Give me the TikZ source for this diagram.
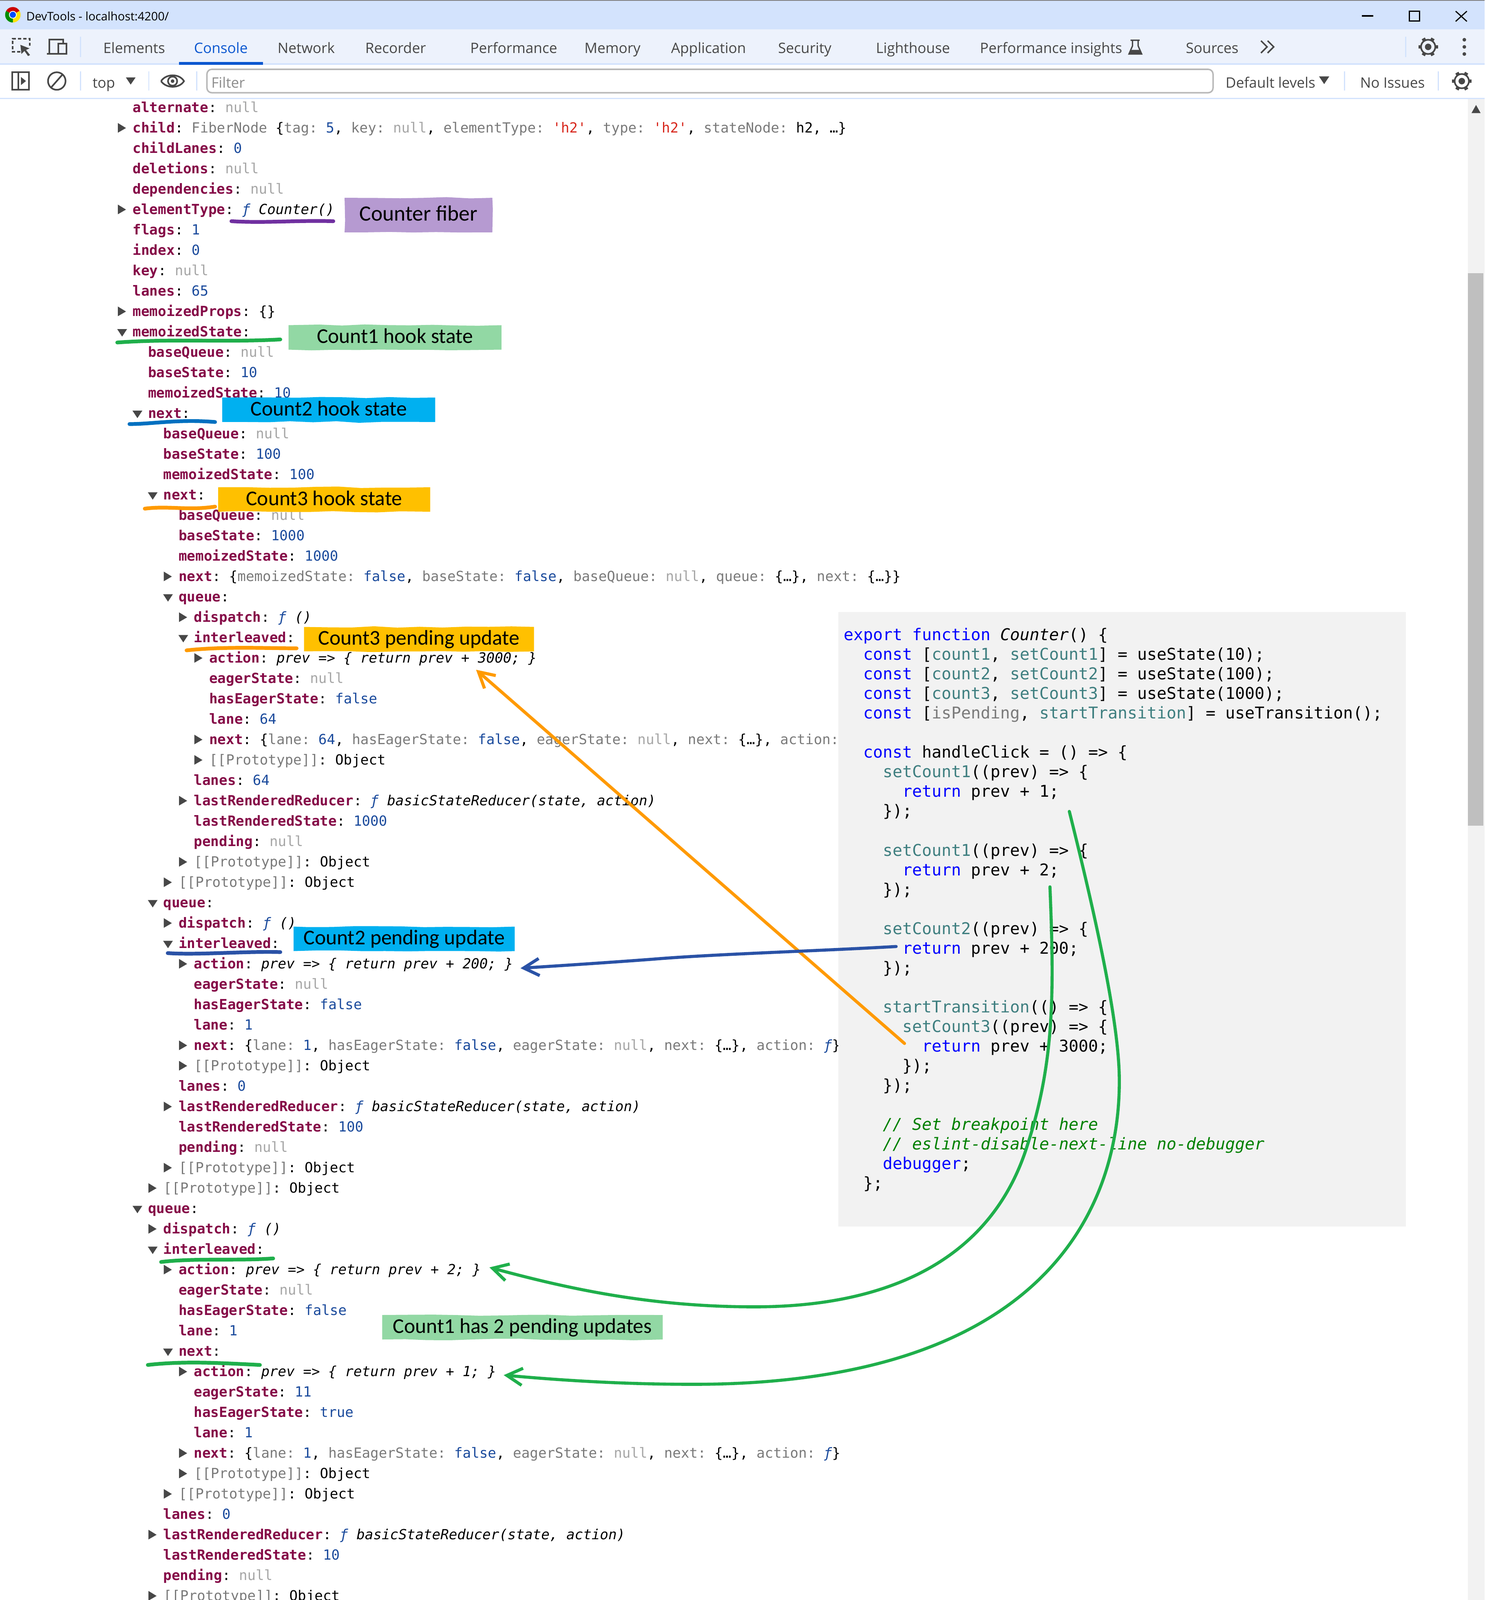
\documentclass[tikz,border=0pt]{standalone}
\usepackage{fontspec}
\usetikzlibrary{arrows.meta,decorations.pathmorphing}
\newfontfamily\monofam{DejaVu Sans Mono}
\newfontfamily\uifam{Open Sans}
\newfontfamily\handfam{Carlito}
\definecolor{titlebar}{HTML}{D3E3FD}
\definecolor{tabbar}{HTML}{EDF2FC}
\definecolor{tabblue}{HTML}{0B57D0}
\definecolor{uigray}{HTML}{474747}
\definecolor{keyred}{HTML}{850A47}
\definecolor{nullgray}{HTML}{A6A6A6}
\definecolor{prevgray}{HTML}{7A7A7A}
\definecolor{numblue}{HTML}{1A4A9C}
\definecolor{strred}{HTML}{D8281E}
\definecolor{codebg}{HTML}{F2F2F2}
\definecolor{codeteal}{HTML}{3F7F80}
\definecolor{codegreen}{HTML}{008000}
\definecolor{codeblue}{HTML}{0000FF}
\definecolor{notepurple}{HTML}{B69AD1}
\definecolor{notegreen}{HTML}{92D8A4}
\definecolor{notecyan}{HTML}{00B0F0}
\definecolor{noteamber}{HTML}{FFC000}
\definecolor{inkpurple}{HTML}{7030A0}
\definecolor{inkgreen}{HTML}{1FAF4B}
\definecolor{inkblue}{HTML}{0070C0}
\definecolor{inknavy}{HTML}{2A52A6}
\definecolor{inkorange}{HTML}{FF9A00}
\tikzset{
  rowtext/.style={anchor=west,inner sep=0pt,font=\monofam\fontsize{8.55}{10}\selectfont\frenchspacing,text height=7pt,text depth=1pt},
  codetext/.style={anchor=west,inner sep=0pt,font=\monofam\fontsize{9.97}{11}\selectfont\frenchspacing,text height=7.5pt,text depth=1pt},
  uitext/.style={anchor=west,inner sep=0pt,font=\uifam\fontsize{8.8}{11}\selectfont,text=uigray,text height=7pt,text depth=1pt},
  notebox/.style={inner sep=0pt,font=\handfam\fontsize{12.9}{15}\selectfont,text height=8.5pt,text depth=1.5pt,
    decorate,decoration={random steps,segment length=14pt,amplitude=0.5pt}},
  inkline/.style={line width=2.3pt,line cap=round},
  inkarrow/.style={line width=1.9pt,line cap=round,-{Straight Barb[length=9.5pt,width=10.5pt,line width=1.9pt]}},
  sepline/.style={draw=titlebar,line width=0.6pt},
  iconline/.style={draw=uigray,line width=1pt},
  gearicon/.pic={
    \foreach \a in {0,60,...,300} \draw[uigray,line width=2.2pt] (\a:7) -- (\a:9.6);
    \draw[iconline] (0,0) circle (7);
    \fill[uigray] (0,0) circle (3.2);
  }
}
\newcommand\rtri[1]{\fill[uigray] ([shift={(-14.4,-4.6)}]#1.west) -- ([shift={(-14.4,4.9)}]#1.west) -- ([shift={(-6.4,0.3)}]#1.west) -- cycle;}
\newcommand\dtri[1]{\fill[uigray] ([shift={(-15,-2.4)}]#1.west) -- ([shift={(-5.4,-2.4)}]#1.west) -- ([shift={(-10.2,4.9)}]#1.west) -- cycle;}
\newcommand\notri[1]{}
\newcommand\kk[1]{{\bfseries\color{keyred}#1}:}
\newcommand\nl{{\color{nullgray}null}}
\newcommand\nm[1]{{\color{numblue}#1}}
\newcommand\strv[1]{{\color{strred}#1}}
\newcommand\gk[1]{{\color{prevgray}#1}}
\newcommand\fn[1]{{\itshape{\color{numblue}ƒ} #1}}
\newcommand\fsym{{\itshape\color{numblue}ƒ}}
\newcommand\proto{{\color{prevgray}[[Prototype]]}: Object}
\newcommand\cw[1]{{\color{codeblue}#1}}
\newcommand\cv[1]{{\color{codeteal}#1}}
\begin{document}
\begin{tikzpicture}[x=0.625pt,y=-0.625pt]
\useasboundingbox (0,0) rectangle (1456.4,1569.6);
\fill[white] (0,0) rectangle (1456.4,1569.6);

% console rows
\foreach \lvl/\tri/\txt [count=\i from 0] in {
0/\notri/{\kk{alternate} \nl},
0/\rtri/{\kk{child} \gk{FiberNode} \{\gk{tag:} \nm{5}, \gk{key:} \nl, \gk{elementType:} \strv{'h2'}, \gk{type:} \strv{'h2'}, \gk{stateNode:} h2, …\}},
0/\notri/{\kk{childLanes} \nm{0}},
0/\notri/{\kk{deletions} \nl},
0/\notri/{\kk{dependencies} \nl},
0/\rtri/{\kk{elementType} \fn{Counter()}},
0/\notri/{\kk{flags} \nm{1}},
0/\notri/{\kk{index} \nm{0}},
0/\notri/{\kk{key} \nl},
0/\notri/{\kk{lanes} \nm{65}},
0/\rtri/{\kk{memoizedProps} \{\}},
0/\dtri/{\kk{memoizedState}},
1/\notri/{\kk{baseQueue} \nl},
1/\notri/{\kk{baseState} \nm{10}},
1/\notri/{\kk{memoizedState} \nm{10}},
1/\dtri/{\kk{next}},
2/\notri/{\kk{baseQueue} \nl},
2/\notri/{\kk{baseState} \nm{100}},
2/\notri/{\kk{memoizedState} \nm{100}},
2/\dtri/{\kk{next}},
3/\notri/{\kk{baseQueue} \nl},
3/\notri/{\kk{baseState} \nm{1000}},
3/\notri/{\kk{memoizedState} \nm{1000}},
3/\rtri/{\kk{next} \{\gk{memoizedState:} \nm{false}, \gk{baseState:} \nm{false}, \gk{baseQueue:} \nl, \gk{queue:} \{…\}, \gk{next:} \{…\}\}},
3/\dtri/{\kk{queue}},
4/\rtri/{\kk{dispatch} \fn{()}},
4/\dtri/{\kk{interleaved}},
5/\rtri/{\kk{action} \textit{prev => \{ return prev + 3000; \}}},
5/\notri/{\kk{eagerState} \nl},
5/\notri/{\kk{hasEagerState} \nm{false}},
5/\notri/{\kk{lane} \nm{64}},
5/\rtri/{\kk{next} \{\gk{lane:} \nm{64}, \gk{hasEagerState:} \nm{false}, \gk{eagerState:} \nl, \gk{next:} \{…\}, \gk{action:}},
5/\rtri/{\proto},
4/\notri/{\kk{lanes} \nm{64}},
4/\rtri/{\kk{lastRenderedReducer} \fn{basicStateReducer(state, action)}},
4/\notri/{\kk{lastRenderedState} \nm{1000}},
4/\notri/{\kk{pending} \nl},
4/\rtri/{\proto},
3/\rtri/{\proto},
2/\dtri/{\kk{queue}},
3/\rtri/{\kk{dispatch} \fn{()}},
3/\dtri/{\kk{interleaved}},
4/\rtri/{\kk{action} \textit{prev => \{ return prev + 200; \}}},
4/\notri/{\kk{eagerState} \nl},
4/\notri/{\kk{hasEagerState} \nm{false}},
4/\notri/{\kk{lane} \nm{1}},
4/\rtri/{\kk{next} \{\gk{lane:} \nm{1}, \gk{hasEagerState:} \nm{false}, \gk{eagerState:} \nl, \gk{next:} \{…\}, \gk{action:} \fsym\}},
4/\rtri/{\proto},
3/\notri/{\kk{lanes} \nm{0}},
3/\rtri/{\kk{lastRenderedReducer} \fn{basicStateReducer(state, action)}},
3/\notri/{\kk{lastRenderedState} \nm{100}},
3/\notri/{\kk{pending} \nl},
3/\rtri/{\proto},
2/\rtri/{\proto},
1/\dtri/{\kk{queue}},
2/\rtri/{\kk{dispatch} \fn{()}},
2/\dtri/{\kk{interleaved}},
3/\rtri/{\kk{action} \textit{prev => \{ return prev + 2; \}}},
3/\notri/{\kk{eagerState} \nl},
3/\notri/{\kk{hasEagerState} \nm{false}},
3/\notri/{\kk{lane} \nm{1}},
3/\dtri/{\kk{next}},
4/\rtri/{\kk{action} \textit{prev => \{ return prev + 1; \}}},
4/\notri/{\kk{eagerState} \nm{11}},
4/\notri/{\kk{hasEagerState} \nm{true}},
4/\notri/{\kk{lane} \nm{1}},
4/\rtri/{\kk{next} \{\gk{lane:} \nm{1}, \gk{hasEagerState:} \nm{false}, \gk{eagerState:} \nl, \gk{next:} \{…\}, \gk{action:} \fsym\}},
4/\rtri/{\proto},
3/\rtri/{\proto},
2/\notri/{\kk{lanes} \nm{0}},
2/\rtri/{\kk{lastRenderedReducer} \fn{basicStateReducer(state, action)}},
2/\notri/{\kk{lastRenderedState} \nm{10}},
2/\notri/{\kk{pending} \nl},
2/\rtri/{\proto}%
}{
  \pgfmathsetmacro\rowx{130+15*\lvl}
  \pgfmathsetmacro\rowy{105.3+20*\i}
  \node[rowtext] (row\i) at (\rowx,\rowy) {\txt};
  \tri{row\i}
}

% code panel
\fill[codebg] (822.5,600.5) rectangle (1379,1203);
\foreach \ln/\ind/\txt in {
0/0/{\cw{export} \cw{function} \textit{Counter}() \{},
1/2/{\cw{const} [\cv{count1}, \cv{setCount1}] = useState(10);},
2/2/{\cw{const} [\cv{count2}, \cv{setCount2}] = useState(100);},
3/2/{\cw{const} [\cv{count3}, \cv{setCount3}] = useState(1000);},
4/2/{\cw{const} [{\color{prevgray}isPending}, \cv{startTransition}] = useTransition();},
6/2/{\cw{const} handleClick = () => \{},
7/4/{\cv{setCount1}((prev) => \{},
8/6/{\cw{return} prev + 1;},
9/4/{\});},
11/4/{\cv{setCount1}((prev) => \{},
12/6/{\cw{return} prev + 2;},
13/4/{\});},
15/4/{\cv{setCount2}((prev) => \{},
16/6/{\cw{return} prev + 200;},
17/4/{\});},
19/4/{\cv{startTransition}(() => \{},
20/6/{\cv{setCount3}((prev) => \{},
21/8/{\cw{return} prev + 3000;},
22/6/{\});},
23/4/{\});},
25/4/{\textit{\color{codegreen}// Set breakpoint here}},
26/4/{\textit{\color{codegreen}// eslint-disable-next-line no-debugger}},
27/4/{\cw{debugger};},
28/2/{\};}%
}{
  \pgfmathsetmacro\codex{827.5+9.6*\ind}
  \pgfmathsetmacro\codey{623+19.22*\ln}
  \node[codetext] (code\ln) at (\codex,\codey) {\txt};
}

% scrollbar
\fill[codebg] (1440,97) rectangle (1456.4,1569.6);
\fill[black!25] (1440,268) rectangle (1455,810);
\fill[uigray] (1448,103) -- (1452.5,111) -- (1443.5,111) -- cycle;

% window bars
\fill[titlebar] (0,0) rectangle (1456.4,29);
\fill[gray] (0,0) rectangle (1456.4,1);
\fill[tabbar] (0,29) rectangle (1456.4,62);
\fill[titlebar] (0,62) rectangle (1456.4,63.5);
\fill[white] (0,63.5) rectangle (1456.4,96);
\fill[titlebar] (0,96) rectangle (1456.4,97.3);
\fill[tabblue] (175.5,61) rectangle (258,63.5);

% browser logo
\fill[red!80!black] (12.6,14.5) -- +(-150:7.6) arc[start angle=-150,end angle=-30,radius=7.6] -- cycle;
\fill[yellow!85!orange] (12.6,14.5) -- +(-30:7.6) arc[start angle=-30,end angle=90,radius=7.6] -- cycle;
\fill[green!55!black] (12.6,14.5) -- +(90:7.6) arc[start angle=90,end angle=210,radius=7.6] -- cycle;
\fill[white] (12.6,14.5) circle (3.8);
\fill[blue!70!cyan] (12.6,14.5) circle (3);

\node[uitext,text=black,font=\uifam\fontsize{7.2}{9}\selectfont] (title) at (25.5,15.5) {DevTools - localhost:4200/};
\draw[line width=1pt] (1336,15.7) -- (1347,15.7);
\draw[line width=0.8pt] (1382.5,11) rectangle (1392.5,20.5);
\draw[line width=0.7pt] (1428,11) -- (1439,21) (1439,11) -- (1428,21);

% tab row
\node[uitext] (tabelements) at (101,47.5) {Elements};
\node[uitext,text=tabblue] (tabconsole) at (190,47.5) {Console};
\node[uitext] (tabnetwork) at (272,47.5) {Network};
\node[uitext] (tabrecorder) at (358,47.5) {Recorder};
\node[uitext] (tabperformance) at (461,47.5) {Performance};
\node[uitext] (tabmemory) at (573,47.5) {Memory};
\node[uitext] (tabapplication) at (658,47.5) {Application};
\node[uitext] (tabsecurity) at (763,47.5) {Security};
\node[uitext] (tablighthouse) at (859,47.5) {Lighthouse};
\node[uitext] (tabinsights) at (961,47.5) {Performance insights};
\node[uitext] (tabsources) at (1163,47.5) {Sources};
\draw[uigray,line width=0.8pt] (1109,39.5) -- (1118,39.5) (1111,39.5) -- (1111,45) -- (1107.5,53) -- (1120,53) -- (1116.5,45) -- (1116.5,39.5);
\fill[uigray] (1109.5,49) -- (1117.5,49) -- (1120,53) -- (1107.5,53) -- cycle;
\draw[uigray,line width=0.9pt] (1237,40) -- (1243,46) -- (1237,52) (1243.5,40) -- (1249.5,46) -- (1243.5,52);
\draw[iconline,dash pattern=on 2pt off 1.2pt] (20,51) -- (12.5,51) -- (12.5,38) -- (29,38) -- (29,45);
\fill[uigray] (20,44) -- (29,47.5) -- (25.5,49) -- (29.5,54) -- (27.5,55) -- (24,50) -- (21,53) -- cycle;
\draw[iconline] (57,53) -- (46,53) (48.5,53) -- (48.5,39) -- (62,39) -- (62,42) (57,43) rectangle (65,53);
\draw[sepline] (79,36) -- (79,56);
\pic at (1401,46) {gearicon};
\foreach \dy in {39,46,53} \fill[uigray] (1436.5,\dy) circle (1.8);
\draw[sepline] (1379,36) -- (1379,56);

% filter row
\draw[iconline] (12,71) rectangle (28.5,88) (18,71) -- (18,88);
\fill[uigray] (20.5,75.5) -- (25.5,79.5) -- (20.5,83.5) -- cycle;
\draw[iconline] (55.7,79.5) circle (8.6) (50,86) -- (61.4,73);
\draw[sepline] (79,70) -- (79,89) (146,70) -- (146,89) (193,70) -- (193,89) (1319,70) -- (1319,89) (1411,70) -- (1411,89);
\node[uitext] (toplabel) at (90.5,81.5) {top};
\fill[uigray] (123.5,76) -- (133,76) -- (128.2,83) -- cycle;
\draw[iconline] (158,79.6) .. controls (163,72) and (176,72) .. (180.5,79.6) .. controls (176,87) and (163,87) .. (158,79.6);
\draw[iconline] (169.3,79.6) circle (4.5);
\fill[uigray] (169.3,79.6) circle (1.8);
\draw[draw=black!28,line width=0.9pt,rounded corners=3pt] (203,68) rectangle (1190,91);
\node[uitext,text=black!45] (filter) at (207,81.5) {Filter};
\node[uitext] (levels) at (1202,81.5) {Default levels};
\fill[uigray] (1294,75) -- (1304,75) -- (1299,82.5) -- cycle;
\node[uitext] (issues) at (1334,81.5) {No Issues};
\pic at (1434,79.6) {gearicon};

% notes
\node[notebox,fill=notepurple,minimum width=90.6pt,minimum height=21.2pt,font=\handfam\fontsize{13.4}{15}\selectfont] (fibernote) at (410.5,211) {Counter fiber};
\node[notebox,fill=notegreen,minimum width=130.6pt,minimum height=15pt] (count1note) at (387.5,331) {Count1 hook state};
\node[notebox,fill=notecyan,minimum width=130.6pt,minimum height=15pt] (count2note) at (322.5,402) {Count2 hook state};
\node[notebox,fill=noteamber,minimum width=130pt,minimum height=15pt] (count3note) at (318,490) {Count3 hook state};
\node[notebox,fill=noteamber,minimum width=141pt,minimum height=15pt] (update3note) at (411,627) {Count3 pending update};
\node[notebox,fill=notecyan,minimum width=135.6pt,minimum height=15pt] (update2note) at (396.5,921) {Count2 pending update};
\node[notebox,fill=notegreen,minimum width=172pt,minimum height=15pt] (update1note) at (512.5,1302) {Count1 has 2 pending updates};

% underlines
\draw[inkline,inkpurple] (227,217) .. controls (260,219) and (290,216) .. (327,217);
\draw[inkline,inkgreen] (115,336) .. controls (170,332) and (220,336) .. (275,333);
\draw[inkline,inkblue] (127,416) .. controls (150,416) and (175,411) .. (211,414);
\draw[inkline,inkorange] (142,499) .. controls (165,496) and (185,501) .. (211,497);
\draw[inkline,inkorange] (183,638) .. controls (220,634) and (260,636) .. (291,636);
\draw[inkline,inknavy] (164.5,935) .. controls (195,937) and (240,933) .. (275,934);
\draw[inkline,inkgreen] (158,1238) .. controls (190,1234) and (235,1237) .. (268,1234.5);
\draw[inkline,inkgreen] (145,1339) .. controls (180,1335) and (215,1337) .. (255,1339);

% arrows back to the console rows
\coordinate (orangeend) at (467,657);
\coordinate (orangestart) at ([shift={(-17,-3)}]code21.west);
\coordinate (navystart) at ([shift={(-6,-2)}]code16.west);
\coordinate (count2tip) at ([shift={(7,4.5)}]row42.east);
\coordinate (count12tip) at ([shift={(8,-2)}]row57.east);
\coordinate (count11tip) at ([shift={(7,3.7)}]row62.east);
\coordinate (greenstartA) at (1030,870);
\coordinate (greenstartB) at (1049,796);
\draw[inkarrow,inkorange] (orangestart) -- (orangeend);
\draw[inkarrow,inknavy] (navystart) .. controls (800,933) and (700,936) .. (640,941) .. controls (600,944) and (555,947) .. (count2tip);
\draw[inkarrow,inkgreen] (greenstartA) .. controls (1034,970) and (1035,1040) .. (1008,1123) .. controls (975,1230) and (880,1282) .. (740,1282) .. controls (640,1282) and (560,1265) .. (count12tip);
\draw[inkarrow,inkgreen] (greenstartB) .. controls (1075,900) and (1097,1000) .. (1098,1056) .. controls (1100,1180) and (1030,1358) .. (680,1358) .. controls (610,1358) and (550,1354) .. (count11tip);
\end{tikzpicture}
\end{document}
